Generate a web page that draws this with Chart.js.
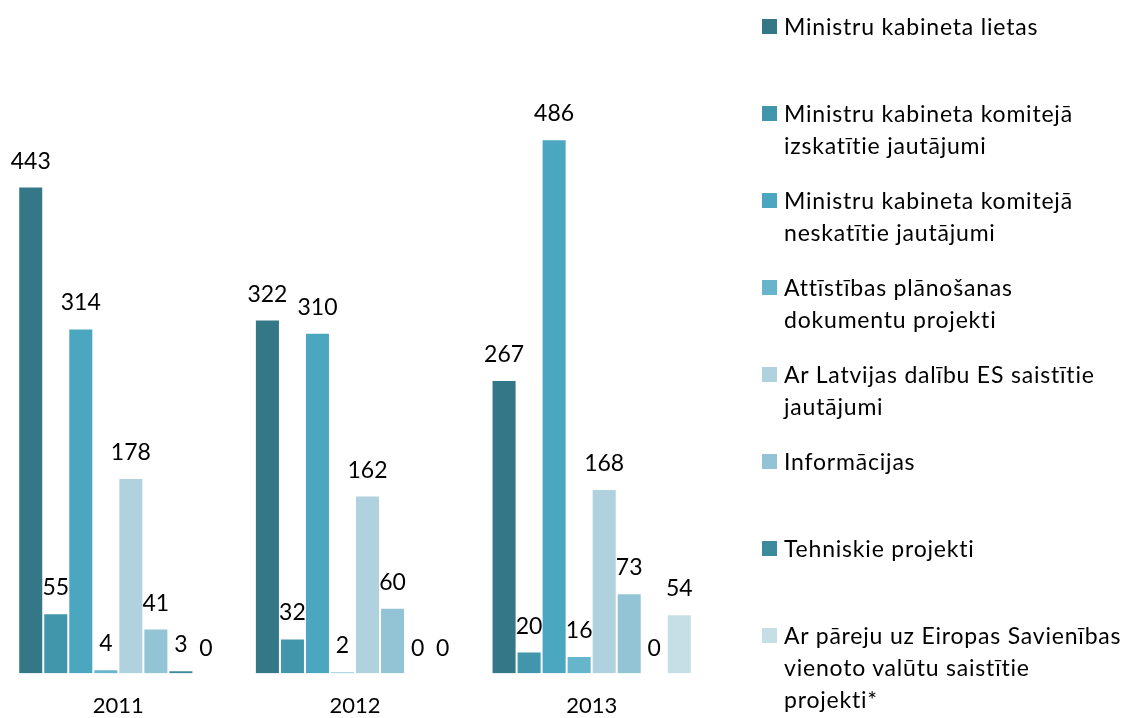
<!DOCTYPE html>
<html>
<head>
<meta charset="utf-8">
<script src="https://cdn.jsdelivr.net/npm/chart.js@4/dist/chart.umd.min.js"></script>
<style>
  html, body { margin: 0; padding: 0; background: #fff; }
  #wrap { position: relative; width: 1122px; height: 718px; overflow: hidden; }
  #chart { position: absolute; left: 0; top: 0; }
  #legend { position: absolute; left: 762px; top: 0; font-family: Lato, "Open Sans", sans-serif; font-size: 23px; letter-spacing: 0.8px; color: #000; }
  .item { position: absolute; left: 0; width: 360px; line-height: 32px; }
  .box { position: absolute; left: 0; top: 9px; width: 15px; height: 15px; }
  .txt { position: absolute; left: 22px; white-space: nowrap; }
</style>
</head>
<body>
<div id="wrap">
  <canvas id="chart" width="1122" height="718"></canvas>
  <div id="legend"></div>
</div>
<script>
// categories (years)
const years = ["2011", "2012", "2013"];

// series names, legend lines as shown in the picture
const seriesNames = [
    ["Ministru kabineta lietas"],
    ["Ministru kabineta komitejā", "izskatītie jautājumi"],
    ["Ministru kabineta komitejā", "neskatītie jautājumi"],
    ["Attīstības plānošanas", "dokumentu projekti"],
    ["Ar Latvijas dalību ES saistītie", "jautājumi"],
    ["Informācijas"],
    ["Tehniskie projekti"],
    ["Ar pāreju uz Eiropas Savienības", "vienoto valūtu saistītie", "projekti*"],
];

// values per series, one per year
const kabinetaLietas = [443, 322, 267];
const komitejaIzskatitie = [55, 32, 20];
const komitejaNeskatitie = [314, 310, 486];
const planosanasDokumenti = [4, 2, 16];
const esJautajumi = [178, 162, 168];
const informacijas = [41, 60, 73];
const tehniskie = [3, 0, 0];
const euroProjekti = [0, 0, 54];

const seriesValues = [
    kabinetaLietas, komitejaIzskatitie, komitejaNeskatitie, planosanasDokumenti,
    esJautajumi, informacijas, tehniskie, euroProjekti,
];

const colors = ["#347787", "#4196AC", "#4AA7BF", "#67B5CB", "#AFD2DE", "#93C4D5", "#3C8A9C", "#C6DFE6"];

const FONT = "Lato, 'Open Sans', sans-serif";

// value labels above each bar
const valueLabels = {
    id: "valueLabels",
    afterDatasetsDraw(chart) {
        const ctx = chart.ctx;
        ctx.save();
        ctx.font = "23px " + FONT;
        ctx.fillStyle = "#000";
        ctx.textAlign = "center";
        ctx.textBaseline = "alphabetic";
        chart.data.datasets.forEach((ds, i) => {
            chart.getDatasetMeta(i).data.forEach((bar, j) => {
                ctx.fillText(String(ds.data[j]), bar.x, bar.y - 18);
            });
        });
        ctx.restore();
    },
};

new Chart(document.getElementById("chart"), {
    type: "bar",
    data: {
        labels: years,
        datasets: seriesNames.map((name, i) => ({
            label: name.join(" "),
            data: seriesValues[i],
            backgroundColor: colors[i],
            borderColor: "rgba(255,255,255,0.45)",
            borderWidth: 1,
            barPercentage: 1,
            categoryPercentage: 0.846,
        })),
    },
    options: {
        responsive: false,
        animation: false,
        layout: { padding: { left: 0, right: 412, top: 14, bottom: -20 } },
        plugins: { legend: { display: false }, tooltip: { enabled: false } },
        scales: {
            x: {
                grid: { display: false, drawTicks: false },
                border: { display: false },
                ticks: { color: "#000", font: { family: FONT, size: 22 }, padding: 19 },
            },
            y: { display: false, min: 0, max: 600 },
        },
    },
    plugins: [valueLabels],
});

// legend drawn as html text
const legend = document.getElementById("legend");
seriesNames.forEach((lines, i) => {
    const item = document.createElement("div");
    item.className = "item";
    item.style.top = (10 + 87 * i) + "px";
    const box = document.createElement("div");
    box.className = "box";
    box.style.background = colors[i];
    const txt = document.createElement("div");
    txt.className = "txt";
    txt.innerHTML = lines.join("<br>");
    item.appendChild(box);
    item.appendChild(txt);
    legend.appendChild(item);
});
</script>
</body>
</html>
